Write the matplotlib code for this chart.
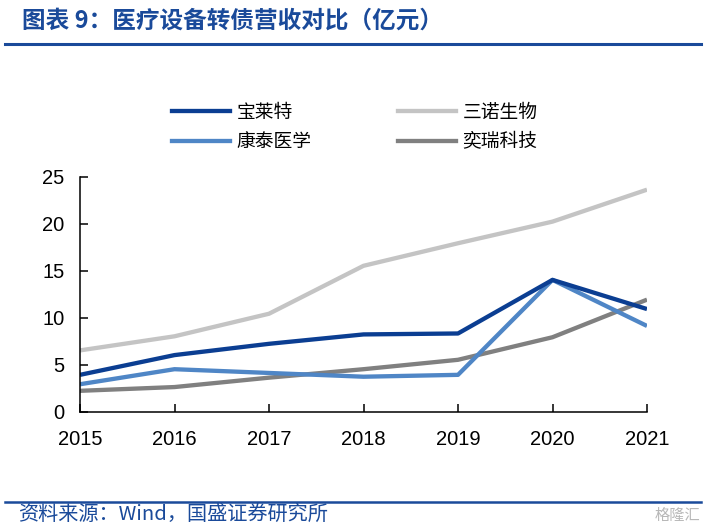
import matplotlib.pyplot as plt
from matplotlib.lines import Line2D

plt.rcParams['font.family'] = ['Noto Sans CJK SC', 'DejaVu Sans']

years = [2015, 2016, 2017, 2018, 2019, 2020, 2021]
baolaite = [3.9, 6.0, 7.2, 8.2, 8.3, 14.0, 10.9]
kangtai = [2.9, 4.5, 4.1, 3.7, 3.9, 14.0, 9.1]
sannuo = [6.5, 8.0, 10.4, 15.5, 17.9, 20.2, 23.6]
yirui = [2.2, 2.6, 3.6, 4.5, 5.5, 7.9, 11.9]

names = ['宝莱特', '康泰医学', '三诺生物', '奕瑞科技']
colors = ['#0B3E92', '#4F86C6', '#C4C4C4', '#808080']
title = '图表 9：医疗设备转债营收对比（亿元）'
source = '资料来源：Wind，国盛证券研究所'
blue = '#1A4A9A'

fig = plt.figure(figsize=(7.06, 5.32), dpi=100)
ax = fig.add_axes([80 / 706, 1 - 411.5 / 532, 567 / 706, 235 / 532])

# draw order: light lines first so the blue ones sit on top like the original
ax.plot(years, sannuo, color=colors[2], lw=3.1, solid_capstyle='butt')
ax.plot(years, yirui, color=colors[3], lw=3.1, solid_capstyle='butt')
ax.plot(years, kangtai, color=colors[1], lw=3.1, solid_capstyle='butt')
ax.plot(years, baolaite, color=colors[0], lw=3.1, solid_capstyle='butt')

ax.set_xlim(2015, 2021)
ax.set_ylim(0, 25)
ax.set_xticks(years)
ax.set_yticks([0, 5, 10, 15, 20, 25])
for s in ['top', 'right']:
    ax.spines[s].set_visible(False)
for s in ['left', 'bottom']:
    ax.spines[s].set_linewidth(1.1)
ax.tick_params(axis='both', direction='in', length=6, width=1.1)
ax.tick_params(axis='x', pad=13)
ax.tick_params(axis='y', pad=11)
for lab in ax.get_xticklabels() + ax.get_yticklabels():
    lab.set_fontfamily(['Liberation Sans', 'DejaVu Sans'])
    lab.set_fontsize(14.5)

handles = [Line2D([], [], color=c, lw=3.1) for c in colors]
fig.legend(handles, names, loc='upper left', bbox_to_anchor=(172 / 706, 1 - 102 / 532),
           ncol=2, frameon=False, fontsize=13.5, handlelength=3.1, handletextpad=0.35,
           columnspacing=4.6, borderpad=0, borderaxespad=0, labelspacing=0.45)

fig.text(22 / 706, 1 - 21 / 532, title, color=blue, fontsize=17, fontweight='bold',
         fontstyle='italic', va='center', ha='left')
fig.add_artist(Line2D([5 / 706, 701 / 706], [1 - 44 / 532, 1 - 44 / 532], color=blue, lw=2.2))
fig.add_artist(Line2D([5 / 706, 701 / 706], [1 - 502 / 532, 1 - 502 / 532], color=blue, lw=1.8))
fig.text(18 / 706, 1 - 514 / 532, source, color=blue, fontsize=14.5, fontstyle='italic',
         va='center', ha='left')
fig.text(700 / 706, 1 - 515 / 532, '格隆汇', color='#B8B8B8', fontsize=11,
         va='center', ha='right')

fig.savefig('out.png', dpi=100)
